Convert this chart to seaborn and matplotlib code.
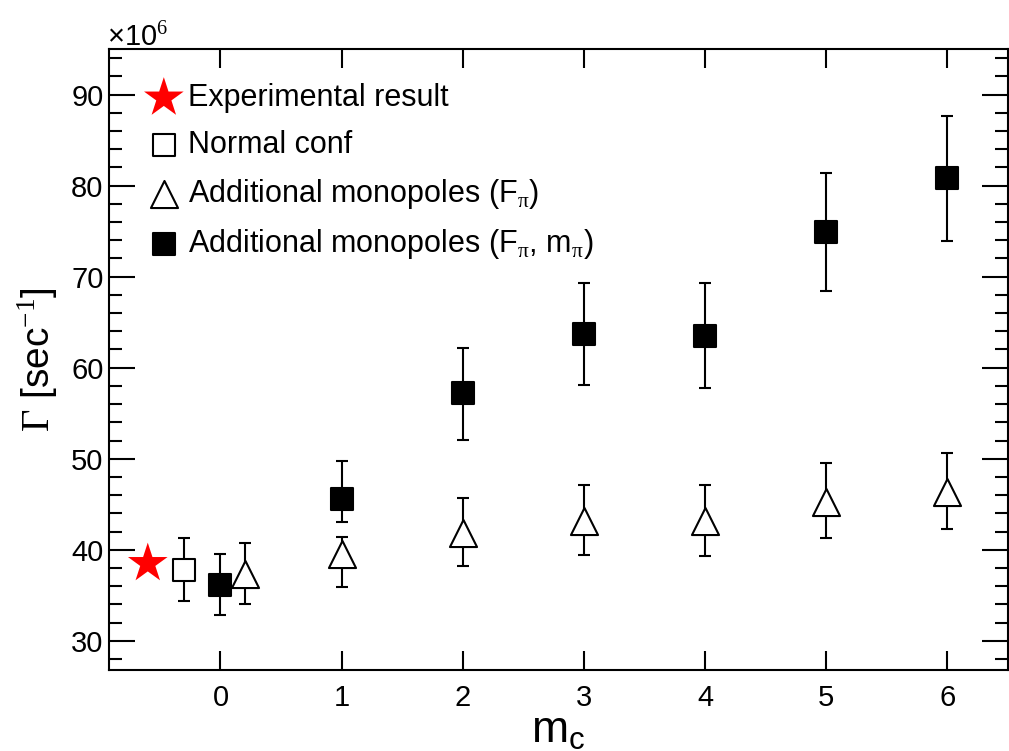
import matplotlib
matplotlib.use("Agg")
import matplotlib.pyplot as plt
from matplotlib.ticker import MultipleLocator
import numpy as np
import seaborn as sns

# decay width values, in units of 10^6 sec^-1
exp_x = [-0.6]
exp_y = [38.5]

normal_x = [-0.3]
normal_y = [37.8]
normal_hi = [41.3]
normal_lo = [34.4]

fpi_x = [0.2, 1, 2, 3, 4, 5, 6]
fpi_y = [37.3, 39.55, 41.9, 43.2, 43.2, 45.3, 46.4]
fpi_hi = [40.7, 41.4, 45.7, 47.1, 47.1, 49.5, 50.6]
fpi_lo = [34.0, 35.9, 38.2, 39.4, 39.3, 41.3, 42.3]

fpim_x = [0, 1, 2, 3, 4, 5, 6]
fpim_y = [36.1, 45.6, 57.2, 63.7, 63.5, 74.9, 80.8]
fpim_hi = [39.5, 49.8, 62.2, 69.3, 69.3, 81.4, 87.6]
fpim_lo = [32.8, 43.1, 52.1, 58.1, 57.8, 68.4, 73.9]

x_ticks = [0, 1, 2, 3, 4, 5, 6]
y_ticks = [30, 40, 50, 60, 70, 80, 90]

sns.set_style("ticks")
plt.rcParams['font.family'] = ['Liberation Sans', 'DejaVu Sans']
plt.rcParams['mathtext.fontset'] = 'custom'
plt.rcParams['mathtext.rm'] = 'Liberation Serif'
plt.rcParams['mathtext.it'] = 'Liberation Sans'
plt.rcParams['mathtext.sf'] = 'Liberation Sans'
plt.rcParams['mathtext.bf'] = 'Liberation Sans:bold'
for key in ['text.color', 'axes.labelcolor', 'xtick.color', 'ytick.color', 'axes.edgecolor']:
    plt.rcParams[key] = 'black'

fig = plt.figure(figsize=(10.09, 7.51), dpi=100)
ax = fig.add_axes([109 / 1009, 81 / 751, 899 / 1009, 621 / 751])


def err(y, hi, lo):
    y = np.array(y)
    return [y - np.array(lo), np.array(hi) - y]


for xs, ys, hi, lo in [(normal_x, normal_y, normal_hi, normal_lo),
                       (fpi_x, fpi_y, fpi_hi, fpi_lo),
                       (fpim_x, fpim_y, fpim_hi, fpim_lo)]:
    ax.errorbar(xs, ys, yerr=err(ys, hi, lo), fmt='none', ecolor='black',
                elinewidth=1.5, capsize=4, capthick=1.5, zorder=2)

sns.scatterplot(x=exp_x, y=exp_y, marker='*', s=900, color='red',
                edgecolor='none', label='Experimental result', ax=ax, zorder=3)
sns.scatterplot(x=normal_x, y=normal_y, marker='s', s=256, color='white',
                edgecolor='black', linewidth=1.5, label='Normal conf', ax=ax, zorder=3)
sns.scatterplot(x=fpi_x, y=fpi_y, marker='^', s=380, color='white',
                edgecolor='black', linewidth=1.5,
                label=r'Additional monopoles (F$_{\mathrm{\pi}}$)', ax=ax, zorder=3)
sns.scatterplot(x=fpim_x, y=fpim_y, marker='s', s=256, color='black',
                edgecolor='black', linewidth=1.5,
                label=r'Additional monopoles (F$_{\mathrm{\pi}}$, m$_{\mathrm{\pi}}$)',
                ax=ax, zorder=3)

ax.set_xlim(-0.92, 6.5)
ax.set_ylim(26.8, 95)
ax.set_xticks(x_ticks)
ax.set_yticks(y_ticks)
ax.yaxis.set_minor_locator(MultipleLocator(2))

ax.tick_params(axis='both', which='both', direction='in', top=True, right=True,
               labelsize=21, width=1.5, color='black', labelcolor='black')
ax.tick_params(axis='x', which='major', length=13.5, pad=10)
ax.tick_params(axis='y', which='major', length=18.5, pad=4)
ax.tick_params(axis='y', which='minor', length=9.4)
for sp in ax.spines.values():
    sp.set_linewidth(1.5)
    sp.set_color('black')

ax.set_xlabel(r'm$_{c}$', fontsize=32, labelpad=-1)
ax.set_ylabel(r'$\Gamma$ [sec$^{-1}$]', fontsize=28, labelpad=8)

fig.text(107 / 1009, 1 - 45 / 751, '\u00d710$^{6}$', fontsize=21,
         ha='left', va='baseline')

ax.legend(loc='upper left', bbox_to_anchor=(0.044, 1 - 34 / 621), frameon=False,
          fontsize=22, handlelength=1.0, handletextpad=0.3, labelspacing=0.55,
          borderpad=0, borderaxespad=0, scatterpoints=1)

fig.savefig('out.png', dpi=100)
